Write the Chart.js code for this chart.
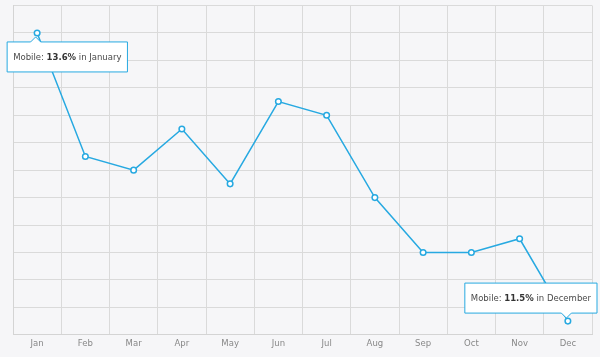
<!DOCTYPE html>
<html><head><meta charset="utf-8">
<script src="https://cdn.jsdelivr.net/npm/chart.js@4.4.0/dist/chart.umd.min.js"></script>
<style>html,body{margin:0;padding:0;background:#f6f6f8;}#wrap{width:600px;height:357px;}</style>
</head><body><div id="wrap"><canvas id="c" width="600" height="357"></canvas></div>
<script>
const months = ['Jan','Feb','Mar','Apr','May','Jun','Jul','Aug','Sep','Oct','Nov','Dec'];
const monthNames = ['January','February','March','April','May','June','July','August','September','October','November','December'];
const mobile = [13.6,12.7,12.6,12.9,12.5,13.1,13.0,12.4,12.0,12.0,12.1,11.5];
const yMin = 11.4, yMax = 13.8, yStep = 0.2;
const shownTips = [0, 11];
const seriesName = 'Mobile';

const FONT = '"DejaVu Sans", Verdana, sans-serif';
const BLUE = '#27a9e1';

const bgPlugin = {
  id: 'bg',
  beforeDraw(chart) {
    const ctx = chart.ctx;
    ctx.save();
    ctx.fillStyle = '#f6f6f8';
    ctx.fillRect(0, 0, chart.width, chart.height);
    ctx.restore();
  }
};

const tipPlugin = {
  id: 'tips',
  afterDraw(chart) {
    const ctx = chart.ctx;
    const meta = chart.getDatasetMeta(0);
    const area = chart.chartArea;
    shownTips.forEach(i => {
      const pt = meta.data[i];
      const parts = [
        {t: seriesName + ': ', b: false},
        {t: mobile[i].toFixed(1) + '%', b: true},
        {t: ' in ' + monthNames[i], b: false}
      ];
      const size = 8.5;
      let w = 0;
      parts.forEach(p => {
        ctx.font = (p.b ? 'bold ' : '') + size + 'px ' + FONT;
        p.w = ctx.measureText(p.t).width;
        w += p.w;
      });
      const padX = 6, h = 30, caret = 5;
      const bw = w + padX * 2;
      let bx = pt.x - 30;
      if (bx + bw > chart.width - 3) bx = chart.width - 3 - bw;
      if (bx < 3) bx = 3;
      const below = pt.y < (area.top + area.bottom) / 2;
      let by = below ? pt.y + 9 : pt.y - 8 - h;
      const cx = pt.x - 1.5;
      ctx.save();
      ctx.beginPath();
      if (below) {
        ctx.moveTo(bx, by);
        ctx.lineTo(cx - caret, by);
        ctx.lineTo(cx, by - caret);
        ctx.lineTo(cx + caret, by);
        ctx.lineTo(bx + bw, by);
        ctx.lineTo(bx + bw, by + h);
        ctx.lineTo(bx, by + h);
      } else {
        ctx.moveTo(bx, by);
        ctx.lineTo(bx + bw, by);
        ctx.lineTo(bx + bw, by + h);
        ctx.lineTo(cx + caret, by + h);
        ctx.lineTo(cx, by + h + caret);
        ctx.lineTo(cx - caret, by + h);
        ctx.lineTo(bx, by + h);
      }
      ctx.closePath();
      ctx.fillStyle = '#ffffff';
      ctx.fill();
      ctx.strokeStyle = BLUE;
      ctx.lineWidth = 1;
      ctx.stroke();
      let tx = bx + padX;
      const ty = by + h / 2 + 0.5;
      ctx.textBaseline = 'middle';
      parts.forEach(p => {
        ctx.font = (p.b ? 'bold ' : '') + size + 'px ' + FONT;
        ctx.fillStyle = p.b ? '#333333' : '#4a4a4a';
        ctx.fillText(p.t, tx, ty);
        tx += p.w;
      });
      ctx.restore();
    });
  }
};

new Chart(document.getElementById('c'), {
  type: 'line',
  data: {
    labels: months,
    datasets: [{
      label: seriesName,
      data: mobile,
      borderColor: BLUE,
      borderWidth: 1.5,
      backgroundColor: '#ffffff',
      pointBackgroundColor: '#ffffff',
      pointBorderColor: BLUE,
      pointBorderWidth: 1.5,
      pointRadius: 2.8,
      tension: 0,
      fill: false
    }]
  },
  options: {
    responsive: false,
    animation: false,
    devicePixelRatio: 1,
    layout: {padding: {left: 13, right: 8, top: 5, bottom: 4}},
    plugins: {legend: {display: false}, tooltip: {enabled: false}},
    scales: {
      x: {
        offset: true,
        grid: {offset: true, color: '#dadada', lineWidth: 1, drawTicks: false},
        border: {color: '#d4d4d4'},
        ticks: {color: '#888888', font: {family: FONT, size: 8.5}, padding: 4, maxRotation: 0}
      },
      y: {
        min: yMin, max: yMax,
        grid: {color: '#dadada', lineWidth: 1, drawTicks: false},
        border: {color: '#d4d4d4'},
        ticks: {display: false, stepSize: yStep}
      }
    }
  },
  plugins: [bgPlugin, tipPlugin]
});
</script></body></html>
